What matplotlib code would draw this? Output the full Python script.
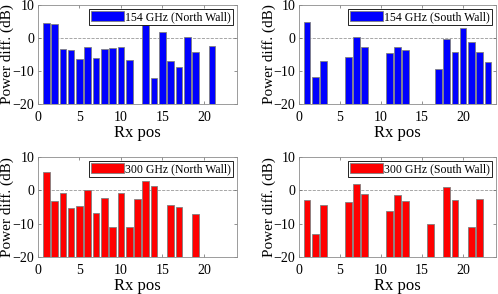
import matplotlib.pyplot as plt
import numpy as np
plt.close('all')
plt.rcParams['font.family'] = 'Liberation Serif'

# Rx positions and power difference (dB), None = no measurement
pos_154n = [1, 2, 3, 4, 5, 6, 7, 8, 9, 10, 11, 13, 14, 15, 16, 17, 18, 19, 21]
val_154n = [4.5, 4.1, -3.3, -3.7, -6.3, -2.7, -6.0, -3.3, -3.1, -2.6, -6.7,
            3.8, -12.1, 1.8, -7.0, -8.8, 0.3, -4.2, -2.3]

pos_154s = [1, 2, 3, 6, 7, 8, 11, 12, 13, 17, 18, 19, 20, 21, 22, 23]
val_154s = [4.8, -11.8, -6.9, -5.8, 0.2, -2.7, -4.4, -2.7, -3.6,
            -9.3, -0.4, -4.3, 2.9, -1.3, -4.2, -7.3]

pos_300n = [1, 2, 3, 4, 5, 6, 7, 8, 9, 10, 11, 12, 13, 14, 16, 17, 19]
val_300n = [5.5, -3.2, -0.9, -5.4, -4.7, 0.0, -6.8, -2.3, -10.9, -0.7,
            -10.9, -2.7, 2.8, 1.3, -4.4, -4.9, -7.1]

pos_300s = [1, 2, 3, 6, 7, 8, 11, 12, 13, 16, 18, 19, 21, 22]
val_300s = [-2.8, -13.1, -4.3, -3.6, 2.0, -1.2, -6.1, -1.4, -3.3, -10.1,
            0.9, -2.8, -11.1, -2.6]

panels = [
    (pos_154n, val_154n, 'blue', '154 GHz (North Wall)'),
    (pos_154s, val_154s, 'blue', '154 GHz (South Wall)'),
    (pos_300n, val_300n, 'red', '300 GHz (North Wall)'),
    (pos_300s, val_300s, 'red', '300 GHz (South Wall)'),
]

W, H = 498, 294
fig = plt.figure(figsize=(W / 100, H / 100), dpi=100)
boxes = [(38, 5, 237, 104), (299, 5, 496, 104),
         (38, 157, 237, 257), (299, 157, 496, 257)]

for (x0, y0, x1, y1), (p, v, c, lab) in zip(boxes, panels):
    ax = fig.add_axes([x0 / W, 1 - y1 / H, (x1 - x0) / W, (y1 - y0) / H])
    v = np.array(v)
    ax.bar(p, v + 20, bottom=-20, width=0.8, color=c, edgecolor='0.5',
           linewidth=0.6, label=lab, zorder=2)
    ax.axhline(0, color='0.6', ls='--', lw=0.6, zorder=1)
    ax.set_xlim(0, 24)
    ax.set_ylim(-20, 10)
    ax.set_xticks([0, 5, 10, 15, 20])
    ax.set_yticks([-20, -10, 0, 10])
    ax.tick_params(direction='in', top=True, right=True, labelsize=10,
                   length=2.5, width=0.5, color='0.4')
    ax.tick_params(axis='x', pad=5)
    ax.tick_params(axis='y', pad=2.5)
    for s in ax.spines.values():
        s.set_color('0.55')
        s.set_linewidth(0.6)
    ax.set_xlabel('Rx pos', fontsize=12, labelpad=1)
    ax.set_ylabel('Power diff. (dB)', fontsize=11)
    ax.yaxis.set_label_coords(-23.5 / (x1 - x0), 0.5)
    leg = ax.legend(loc='upper right', fontsize=8.5, fancybox=False,
                    handlelength=2.8, handleheight=1.0, handletextpad=0.1,
                    borderpad=0.15, borderaxespad=0.35, framealpha=1)
    leg.get_frame().set_edgecolor('black')
    leg.get_frame().set_linewidth(0.6)

fig.savefig('out.png', dpi=100)
